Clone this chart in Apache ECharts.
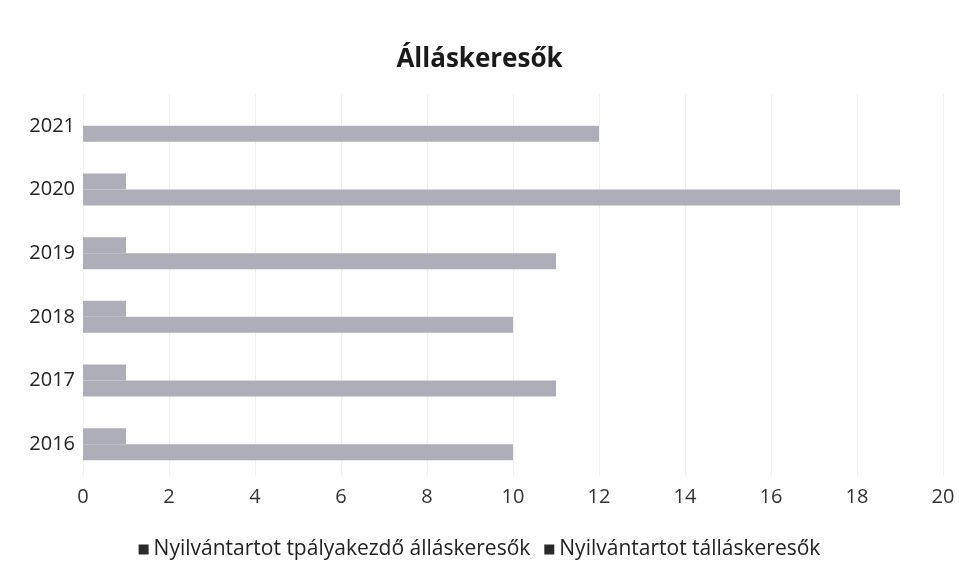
<!DOCTYPE html>
<html>
<head>
<meta charset="utf-8">
<script src="https://cdn.jsdelivr.net/npm/echarts@6/dist/echarts.min.js"></script>
<style>
  html, body { margin: 0; padding: 0; background: #fff; }
  #chart { width: 959px; height: 564px; }
</style>
</head>
<body>
<div id="chart"></div>
<script>
const years = ['2016', '2017', '2018', '2019', '2020', '2021'];
const palyakezdo = [1, 1, 1, 1, 1, 0];
const allaskeresok = [10, 11, 10, 11, 19, 12];
const seriesNames = ['Nyilvántartot tpályakezdő álláskeresők', 'Nyilvántartot tálláskeresők'];
const xTicks = { min: 0, max: 20, interval: 2 };

const font = '"Open Sans", "Liberation Sans", sans-serif';
const barColor = '#aeaeb8';

const chart = echarts.init(document.getElementById('chart'));
chart.setOption({
  backgroundColor: '#fff',
  title: {
    text: 'Álláskeresők',
    left: 'center',
    top: 42,
    textStyle: { fontFamily: font, fontSize: 26, fontWeight: 'bold', color: '#1a1a1a' }
  },
  legend: {
    top: 539,
    left: 'center',
    padding: 0,
    itemWidth: 10,
    itemHeight: 10,
    itemGap: 14,
    icon: 'rect',
    textStyle: { fontFamily: font, fontSize: 21, color: '#222' },
    data: seriesNames.map(n => ({ name: n, itemStyle: { color: '#2a2a2a' } }))
  },
  grid: { left: 83, right: 16, top: 94, bottom: 88 },
  xAxis: {
    type: 'value',
    min: xTicks.min,
    max: xTicks.max,
    interval: xTicks.interval,
    axisLine: { show: false },
    axisTick: { show: false },
    axisLabel: { fontFamily: font, fontSize: 20, color: '#333', margin: 11 },
    splitLine: { show: true, lineStyle: { color: '#f0f0f4', width: 1 } }
  },
  yAxis: {
    type: 'category',
    data: years,
    axisLine: { show: false },
    axisTick: { show: false },
    axisLabel: { fontFamily: font, fontSize: 20, color: '#222', margin: 8 }
  },
  series: [
    {
      name: seriesNames[0],
      type: 'bar',
      data: palyakezdo,
      barWidth: 16,
      barGap: '0%',
      itemStyle: { color: barColor }
    },
    {
      name: seriesNames[1],
      type: 'bar',
      data: allaskeresok,
      barWidth: 16,
      barGap: '0%',
      itemStyle: { color: barColor }
    }
  ]
});
</script>
</body>
</html>
